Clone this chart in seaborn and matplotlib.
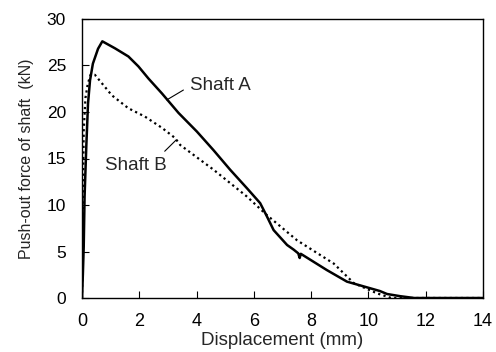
import matplotlib
matplotlib.use("Agg")
import matplotlib.pyplot as plt
import seaborn as sns
import pandas as pd

# Shaft A (solid)
disp_a = [0.0, 0.03, 0.06, 0.09, 0.15, 0.21, 0.28, 0.38, 0.56, 0.71, 1.15, 1.62, 1.97,
          2.32, 2.79, 3.37, 4.01, 4.59, 5.17, 5.76, 6.22, 6.46, 6.69, 7.16, 7.39,
          7.55, 7.6, 7.64, 8.55, 9.25, 10.07, 10.4, 10.65, 11.1, 11.6, 12.0, 14.0]
force_a = [0.0, 2.5, 5.5, 10.9, 16.3, 20.9, 23.4, 25.2, 26.8, 27.6, 26.85, 25.97, 24.9,
           23.6, 22.0, 19.9, 17.9, 15.9, 13.8, 11.8, 10.2, 8.75, 7.3, 5.7, 5.2,
           4.8, 4.3, 4.75, 3.0, 1.76, 1.04, 0.75, 0.43, 0.2, 0.0, 0.0, 0.0]

# Shaft B (dotted)
disp_b = [0.0, 0.02, 0.03, 0.06, 0.12, 0.2, 0.3, 0.45, 1.04, 1.62, 2.2, 2.79, 3.25,
          3.43, 4.59, 5.76, 6.46, 7.51, 8.79, 9.49, 10.3, 10.8, 14.0]
force_b = [0.0, 5.0, 10.0, 18.0, 21.5, 23.0, 24.0, 24.0, 21.8, 20.4, 19.5, 18.3, 17.2,
           16.45, 13.8, 10.9, 8.9, 6.2, 3.7, 1.6, 0.5, 0.0, 0.0]

x_ticks = [0, 2, 4, 6, 8, 10, 12, 14]
y_ticks = [0, 5, 10, 15, 20, 25, 30]

sns.set_theme(style="white")
plt.rcParams['font.family'] = ['Liberation Sans', 'DejaVu Sans']

fig = plt.figure(figsize=(4.96, 3.52), dpi=100)
ax = fig.add_axes([82/496, 1 - 298/352, (483-82)/496, (298-19)/352])

df_a = pd.DataFrame({"x": disp_a, "y": force_a})
df_b = pd.DataFrame({"x": disp_b, "y": force_b})
sns.lineplot(data=df_a, x="x", y="y", ax=ax, color="black", linewidth=1.8,
             sort=False, estimator=None)
sns.lineplot(data=df_b, x="x", y="y", ax=ax, color="black", linewidth=1.6,
             linestyle=(0, (1, 1.5)), sort=False, estimator=None)

ax.set_xlim(0, 14)
ax.set_ylim(0, 30)
ax.set_xticks(x_ticks)
ax.set_yticks(y_ticks)
ax.tick_params(direction="in", length=5, width=0.8, colors="black",
               bottom=True, left=True, top=False, right=False)
ax.tick_params(axis="x", labelsize=13, pad=10.5)
ax.tick_params(axis="y", labelsize=12.5, pad=11.5)
for s in ax.spines.values():
    s.set_color("black")
    s.set_linewidth(1.0)

ax.set_xlabel("Displacement (mm)", fontsize=13.5, labelpad=1.5)
ax.set_ylabel("Push-out force of shaft  (kN)", fontsize=11.5, labelpad=9)

# annotations
ax.annotate("Shaft A", xy=(2.96, 21.3), xytext=(3.78, 22.8), fontsize=13.5,
            va="center", ha="left",
            arrowprops=dict(arrowstyle="-", color="black", lw=0.8, shrinkA=3, shrinkB=0,
                            relpos=(0, 0.5)))
ax.annotate("Shaft B", xy=(3.29, 17.0), xytext=(2.97, 14.2), fontsize=13.5,
            va="center", ha="right",
            arrowprops=dict(arrowstyle="-", color="black", lw=0.8, shrinkA=3, shrinkB=0,
                            relpos=(0.86, 1.0)))

fig.savefig("out.png", dpi=100)
